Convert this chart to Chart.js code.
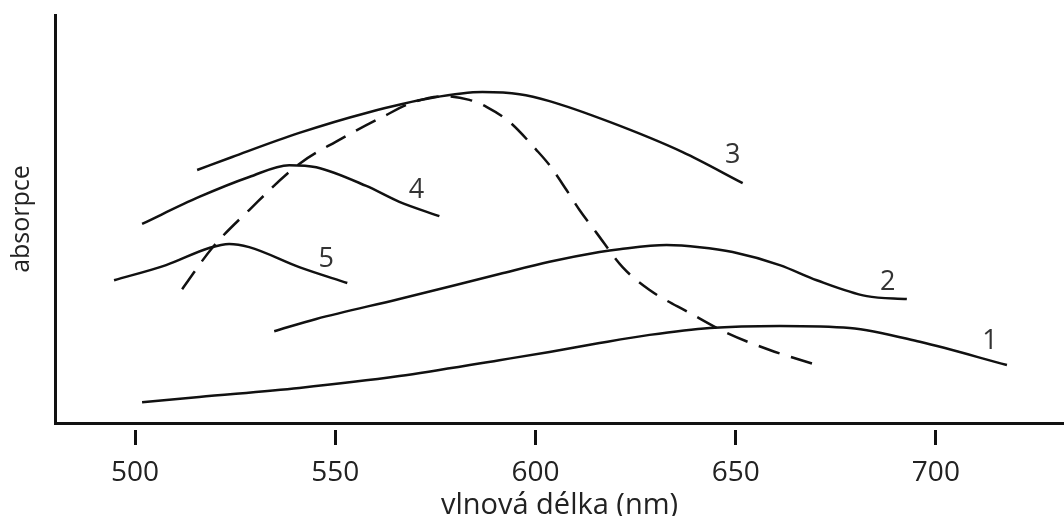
<!DOCTYPE html>
<html>
<head>
<meta charset="utf-8">
<script src="https://cdn.jsdelivr.net/npm/chart.js@4"></script>
<style>
  html, body { margin: 0; padding: 0; background: #fff; }
  #wrap { width: 1064px; height: 516px; }
</style>
</head>
<body>
<div id="wrap"><canvas id="myChart"></canvas></div>
<script>
// wavelength (nm) and absorbance (arbitrary units)
const wl1 = [501.75, 516, 541, 566, 591, 603.5, 616, 628.5, 643.5, 661, 678.5, 696, 717.75];
const abs1 = [5.1, 6.4, 8.6, 11.5, 15.4, 17.4, 19.6, 21.6, 23.3, 23.8, 23.3, 19.9, 14.2];

const wl2 = [534.75, 545.25, 566, 591, 603.5, 616, 621, 632.75, 641, 649.25, 661, 670.25, 682.75, 692.75];
const abs2 = [22.5, 25.5, 30.4, 36.5, 39.5, 41.9, 42.6, 43.6, 43.1, 41.9, 38.7, 35.0, 31.1, 30.4];

const wl3 = [515.5, 524.25, 541, 557.75, 574.25, 586.75, 596, 603.5, 618.5, 636.75, 651.75];
const abs3 = [62.0, 65.2, 71.1, 76.0, 79.7, 81.1, 80.6, 78.9, 73.8, 66.4, 58.8];

const wl4 = [501.75, 516, 528.5, 538.5, 545.25, 557.75, 566, 576];
const abs4 = [48.8, 55.4, 60.3, 63.2, 62.7, 58.1, 54.2, 50.7];

const wl5 = [494.75, 507.75, 518.5, 523.5, 528.5, 541, 553];
const abs5 = [35.0, 38.7, 42.9, 43.9, 43.1, 38.2, 34.3];

const wlDash = [511.75, 519.25, 528.5, 541, 551, 561.75, 569.75, 577.25, 583.5, 587.75, 593.5,
  600.25, 603.5, 607.75, 611, 615.25, 621.75, 628.5, 638.5, 647.75, 658.5, 671];
const absDash = [32.8, 42.9, 52.2, 63.5, 69.4, 75.0, 78.7, 80.1, 79.2, 77.5, 73.8,
  66.9, 63.2, 57.1, 52.2, 46.6, 38.2, 32.6, 27.0, 22.1, 17.9, 14.0];

const xTicks = [500, 550, 600, 650, 700];

const curveNames = ["1", "2", "3", "4", "5"];
const nameWl = [713.5, 688, 649.25, 570.25, 547.75];
const nameAbs = [19.9, 34.6, 65.7, 57.1, 40.2];

const FONT = "'Open Sans', 'Noto Sans', sans-serif";
const INK = "#111";

const pts = (xs, ys) => xs.map((x, i) => ({ x: x, y: ys[i] }));

const curve = (label, xs, ys, dash) => ({
  label: label,
  data: pts(xs, ys),
  borderColor: INK,
  borderWidth: 2.5,
  borderDash: dash || [],
  pointRadius: 0,
  fill: false,
  cubicInterpolationMode: "monotone",
});

// numbers next to the curves
const curveLabels = {
  id: "curveLabels",
  afterDatasetsDraw(chart) {
    const { ctx, scales } = chart;
    ctx.save();
    ctx.font = "27px " + FONT;
    ctx.fillStyle = "#333";
    ctx.textAlign = "center";
    ctx.textBaseline = "middle";
    curveNames.forEach((n, i) => {
      ctx.fillText(n, scales.x.getPixelForValue(nameWl[i]), scales.y.getPixelForValue(nameAbs[i]));
    });
    ctx.restore();
  },
};

document.addEventListener("DOMContentLoaded", () => {
  const ctx = document.getElementById("myChart").getContext("2d");
  new Chart(ctx, {
    type: "line",
    data: {
      datasets: [
        curve("1", wl1, abs1),
        curve("2", wl2, abs2),
        curve("3", wl3, abs3),
        curve("4", wl4, abs4),
        curve("5", wl5, abs5),
        curve("dash", wlDash, absDash, [22, 12]),
      ],
    },
    options: {
      responsive: true,
      maintainAspectRatio: false,
      animation: false,
      layout: { padding: { top: 15, left: 3, right: 0, bottom: 0 } },
      plugins: { legend: { display: false }, tooltip: { enabled: false } },
      scales: {
        x: {
          type: "linear",
          min: 480,
          max: 732,
          afterBuildTicks: (s) => { s.ticks = xTicks.map((v) => ({ value: v })); },
          border: { display: true, color: INK, width: 3 },
          grid: {
            drawOnChartArea: false,
            drawTicks: true,
            tickLength: 22,
            tickWidth: 3,
            tickColor: INK,
            tickBorderDash: [0, 5, 17, 100],
          },
          ticks: { color: "#222", font: { family: FONT, size: 28 }, padding: 11, maxRotation: 0 },
          title: {
            display: true,
            text: "vlnová délka (nm)",
            color: "#222",
            font: { family: FONT, size: 29, lineHeight: 0.6 },
            padding: { top: -4, bottom: 2 },
          },
        },
        y: {
          min: 0,
          max: 100,
          border: { display: true, color: INK, width: 3 },
          grid: { display: false, drawTicks: false },
          ticks: { display: false },
          title: {
            display: true,
            text: "absorpce",
            color: "#222",
            font: { family: FONT, size: 25 },
            padding: { top: 4, bottom: 18 },
          },
        },
      },
    },
    plugins: [curveLabels],
  });
});
</script>
</body>
</html>
